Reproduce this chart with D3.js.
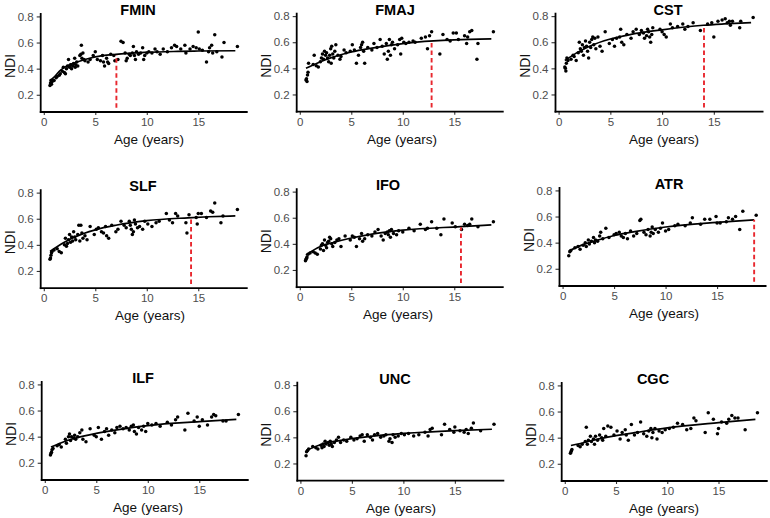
<!DOCTYPE html>
<html>
<head>
<meta charset="utf-8">
<script src="https://cdn.jsdelivr.net/npm/d3@7"></script>
<style>
  body { margin: 0; background: #fff; }
  svg { display: block; }
  text { font-family: "Liberation Sans", Arial, Helvetica, sans-serif; }
</style>
</head>
<body>
<svg id="chart" width="770" height="518"></svg>
<script>
// ---------------- DATA ----------------
const tracts = ["FMIN", "FMAJ", "CST", "SLF", "IFO", "ATR", "ILF", "UNC", "CGC"];
const xTicks = [0, 5, 10, 15];
const yTicks = [0.2, 0.4, 0.6, 0.8];
const xLabel = "Age (years)";
const yLabel = "NDI";

// scatter points [age, NDI]
const fminPoints = [[0.6,0.27],[0.65,0.29],[0.7,0.31],[0.75,0.28],[0.8,0.30],[0.9,0.31],[1.0,0.31],[1.2,0.33],[1.3,0.34],[1.5,0.35],[1.6,0.36],[1.8,0.38],[1.9,0.41],[2.0,0.37],[2.1,0.36],[2.2,0.40],[2.3,0.42],[2.4,0.47],[2.5,0.41],[2.6,0.43],[2.7,0.40],[2.8,0.42],[2.9,0.44],[3.0,0.48],[3.05,0.41],[3.1,0.43],[3.2,0.45],[3.3,0.42],[3.5,0.50],[3.6,0.51],[3.65,0.58],[3.7,0.48],[3.8,0.52],[3.9,0.47],[4.0,0.46],[4.3,0.45],[4.5,0.47],[4.8,0.50],[5.0,0.53],[5.2,0.47],[5.5,0.46],[5.7,0.50],[5.8,0.45],[5.9,0.42],[6.1,0.48],[6.2,0.45],[6.3,0.44],[6.5,0.51],[6.8,0.50],[6.9,0.46],[7.2,0.47],[7.5,0.61],[7.7,0.60],[7.9,0.52],[8.0,0.46],[8.1,0.48],[8.3,0.51],[8.4,0.50],[8.6,0.52],[8.7,0.57],[8.8,0.50],[8.9,0.47],[9.0,0.53],[9.2,0.51],[9.4,0.52],[9.6,0.56],[9.7,0.47],[9.8,0.50],[10.0,0.52],[10.2,0.53],[10.5,0.52],[10.8,0.55],[11.0,0.53],[11.3,0.51],[11.6,0.55],[12.0,0.53],[12.4,0.56],[12.7,0.58],[12.9,0.57],[13.3,0.55],[13.7,0.58],[13.8,0.52],[14.2,0.55],[14.5,0.57],[14.8,0.56],[15.0,0.68],[15.1,0.55],[15.4,0.54],[15.8,0.45],[16.0,0.53],[16.1,0.56],[16.3,0.58],[16.4,0.52],[16.6,0.66],[16.8,0.53],[17.3,0.49],[17.5,0.60],[18.8,0.57]];
const fmajPoints = [[0.6,0.31],[0.65,0.32],[0.7,0.30],[0.75,0.35],[0.8,0.37],[0.85,0.44],[1.3,0.43],[1.4,0.50],[1.6,0.42],[1.8,0.41],[2.0,0.45],[2.1,0.48],[2.2,0.51],[2.3,0.47],[2.4,0.53],[2.5,0.50],[2.6,0.52],[2.7,0.48],[2.8,0.45],[2.9,0.50],[3.0,0.55],[3.05,0.44],[3.1,0.57],[3.2,0.51],[3.3,0.48],[3.4,0.53],[3.5,0.58],[3.7,0.50],[3.9,0.47],[4.0,0.49],[4.3,0.54],[4.5,0.52],[4.9,0.53],[5.1,0.58],[5.3,0.54],[5.5,0.44],[5.7,0.50],[5.9,0.56],[6.0,0.58],[6.1,0.60],[6.2,0.53],[6.3,0.44],[6.6,0.56],[7.0,0.54],[7.2,0.59],[7.5,0.56],[7.8,0.62],[8.0,0.57],[8.2,0.51],[8.4,0.59],[8.5,0.47],[8.6,0.53],[8.7,0.62],[8.8,0.50],[8.9,0.58],[9.0,0.60],[9.2,0.55],[9.5,0.58],[9.7,0.62],[9.8,0.51],[9.9,0.63],[10.1,0.60],[10.3,0.59],[10.6,0.60],[11.0,0.61],[11.2,0.60],[11.8,0.63],[12.2,0.64],[12.4,0.55],[12.6,0.65],[12.8,0.68],[13.6,0.51],[13.9,0.66],[14.3,0.62],[14.6,0.61],[14.9,0.67],[15.2,0.67],[15.4,0.62],[16.0,0.65],[16.2,0.59],[16.3,0.64],[16.5,0.68],[16.7,0.69],[17.2,0.47],[17.3,0.59],[18.8,0.68]];
const cstPoints = [[0.6,0.41],[0.65,0.40],[0.7,0.38],[0.75,0.44],[0.8,0.48],[0.9,0.46],[1.2,0.47],[1.4,0.50],[1.5,0.49],[1.7,0.46],[1.9,0.52],[2.0,0.60],[2.1,0.55],[2.2,0.53],[2.3,0.58],[2.4,0.50],[2.5,0.56],[2.6,0.61],[2.7,0.57],[2.8,0.53],[2.9,0.48],[3.0,0.60],[3.1,0.56],[3.2,0.62],[3.3,0.64],[3.4,0.58],[3.5,0.63],[3.6,0.55],[3.8,0.64],[4.0,0.57],[4.2,0.53],[4.5,0.68],[4.9,0.59],[5.2,0.62],[5.4,0.57],[5.6,0.63],[5.9,0.64],[6.0,0.70],[6.1,0.60],[6.3,0.58],[6.6,0.66],[7.0,0.63],[7.2,0.68],[7.5,0.70],[7.8,0.66],[8.0,0.69],[8.2,0.67],[8.3,0.63],[8.5,0.65],[8.6,0.70],[8.7,0.68],[8.8,0.64],[8.9,0.60],[9.0,0.66],[9.1,0.71],[9.8,0.70],[10.0,0.68],[10.2,0.66],[10.4,0.64],[10.8,0.74],[11.0,0.71],[11.5,0.72],[12.0,0.74],[12.2,0.70],[12.5,0.72],[13.0,0.75],[13.7,0.69],[14.4,0.74],[14.8,0.75],[15.0,0.64],[15.4,0.76],[15.8,0.77],[16.1,0.78],[16.3,0.75],[16.5,0.76],[16.6,0.73],[16.8,0.76],[17.5,0.71],[17.6,0.76],[18.8,0.79]];
const slfPoints = [[0.6,0.29],[0.65,0.30],[0.7,0.32],[0.75,0.34],[0.8,0.35],[1.0,0.36],[1.3,0.37],[1.5,0.35],[1.7,0.34],[2.0,0.40],[2.1,0.45],[2.2,0.39],[2.3,0.41],[2.4,0.44],[2.5,0.48],[2.6,0.42],[2.7,0.46],[2.8,0.43],[2.9,0.50],[3.0,0.46],[3.1,0.44],[3.3,0.48],[3.4,0.55],[3.5,0.43],[3.6,0.55],[3.7,0.49],[3.8,0.45],[4.0,0.47],[4.2,0.44],[4.5,0.54],[4.9,0.48],[5.1,0.52],[5.3,0.53],[5.6,0.50],[5.8,0.49],[6.0,0.54],[6.1,0.47],[6.3,0.45],[6.6,0.55],[7.0,0.50],[7.2,0.52],[7.5,0.58],[7.8,0.55],[8.0,0.53],[8.3,0.58],[8.4,0.55],[8.5,0.52],[8.6,0.48],[8.7,0.50],[8.8,0.59],[8.9,0.56],[9.1,0.53],[9.3,0.54],[9.6,0.52],[9.8,0.58],[10.1,0.56],[10.5,0.54],[10.9,0.57],[11.2,0.58],[11.9,0.64],[12.2,0.59],[12.5,0.57],[12.8,0.64],[13.0,0.62],[13.8,0.57],[13.9,0.49],[14.1,0.63],[14.8,0.61],[14.9,0.56],[15.0,0.64],[15.3,0.64],[15.8,0.61],[16.2,0.66],[16.4,0.65],[16.6,0.72],[17.2,0.57],[17.4,0.62],[18.8,0.67]];
const ifoPoints = [[0.55,0.27],[0.6,0.28],[0.65,0.29],[0.7,0.30],[0.8,0.32],[1.0,0.33],[1.3,0.34],[1.5,0.33],[1.7,0.32],[2.0,0.36],[2.1,0.39],[2.2,0.40],[2.3,0.35],[2.4,0.43],[2.5,0.39],[2.6,0.37],[2.7,0.41],[2.8,0.42],[2.9,0.45],[3.0,0.44],[3.1,0.40],[3.2,0.38],[3.4,0.41],[3.6,0.43],[3.8,0.44],[4.0,0.38],[4.4,0.46],[4.9,0.43],[5.1,0.46],[5.3,0.45],[5.5,0.38],[5.8,0.44],[6.0,0.48],[6.1,0.42],[6.3,0.44],[6.6,0.47],[7.0,0.46],[7.3,0.49],[7.6,0.51],[7.9,0.46],[8.1,0.43],[8.3,0.48],[8.5,0.49],[8.6,0.47],[8.7,0.50],[8.8,0.45],[8.9,0.51],[9.1,0.48],[9.4,0.47],[9.6,0.50],[10.0,0.49],[10.6,0.52],[11.1,0.50],[11.7,0.55],[12.2,0.51],[12.4,0.52],[12.8,0.57],[13.3,0.52],[13.7,0.47],[14.0,0.59],[14.8,0.56],[15.1,0.53],[15.7,0.51],[16.0,0.55],[16.3,0.54],[16.5,0.55],[16.7,0.59],[17.3,0.53],[18.8,0.57]];
const atrPoints = [[0.6,0.30],[0.7,0.33],[0.8,0.34],[1.2,0.36],[1.5,0.37],[1.7,0.35],[2.0,0.38],[2.2,0.40],[2.3,0.37],[2.5,0.42],[2.6,0.39],[2.8,0.41],[3.0,0.44],[3.1,0.40],[3.2,0.42],[3.4,0.41],[3.6,0.45],[3.7,0.48],[3.9,0.43],[4.2,0.51],[4.5,0.44],[5.0,0.46],[5.2,0.47],[5.5,0.48],[5.7,0.45],[5.9,0.44],[6.1,0.47],[6.3,0.43],[6.6,0.49],[6.9,0.45],[7.2,0.47],[7.5,0.57],[7.6,0.58],[7.9,0.48],[8.1,0.46],[8.3,0.50],[8.5,0.45],[8.6,0.48],[8.7,0.52],[8.8,0.47],[9.0,0.50],[9.3,0.48],[9.5,0.51],[9.7,0.55],[10.0,0.49],[10.3,0.50],[10.9,0.53],[11.2,0.54],[11.9,0.53],[12.4,0.55],[12.6,0.59],[13.4,0.54],[13.8,0.58],[14.3,0.58],[14.9,0.60],[15.0,0.55],[15.3,0.55],[15.9,0.56],[16.1,0.59],[16.5,0.58],[16.8,0.60],[17.2,0.50],[17.5,0.64],[18.8,0.61]];
const ilfPoints = [[0.55,0.26],[0.6,0.27],[0.65,0.28],[0.7,0.30],[0.8,0.31],[1.2,0.33],[1.4,0.34],[1.6,0.32],[2.0,0.38],[2.1,0.35],[2.3,0.40],[2.4,0.42],[2.5,0.37],[2.6,0.40],[2.8,0.39],[2.9,0.41],[3.0,0.38],[3.2,0.40],[3.4,0.43],[3.6,0.45],[3.7,0.38],[4.0,0.36],[4.4,0.46],[4.8,0.41],[5.0,0.40],[5.2,0.47],[5.5,0.38],[5.8,0.44],[6.0,0.46],[6.2,0.41],[6.5,0.45],[6.8,0.43],[7.0,0.47],[7.3,0.48],[7.6,0.46],[7.9,0.47],[8.2,0.45],[8.4,0.48],[8.6,0.49],[8.7,0.44],[8.9,0.42],[9.1,0.47],[9.4,0.45],[9.6,0.48],[9.8,0.44],[10.0,0.50],[10.4,0.49],[10.8,0.50],[11.2,0.48],[11.9,0.51],[12.3,0.49],[12.7,0.53],[12.9,0.55],[13.6,0.45],[13.9,0.58],[14.5,0.52],[14.8,0.55],[15.0,0.48],[15.3,0.53],[15.8,0.49],[16.2,0.55],[16.4,0.57],[16.6,0.56],[17.3,0.52],[17.6,0.52],[18.8,0.57]];
const uncPoints = [[0.55,0.26],[0.6,0.29],[0.7,0.30],[0.8,0.31],[1.2,0.33],[1.5,0.32],[1.7,0.31],[2.0,0.34],[2.1,0.32],[2.2,0.35],[2.3,0.33],[2.4,0.37],[2.5,0.35],[2.7,0.36],[2.8,0.34],[2.9,0.37],[3.0,0.35],[3.1,0.33],[3.3,0.36],[3.5,0.38],[3.7,0.40],[3.9,0.36],[4.2,0.38],[4.5,0.37],[4.9,0.40],[5.2,0.38],[5.5,0.39],[5.8,0.41],[6.0,0.42],[6.2,0.37],[6.5,0.42],[6.8,0.40],[7.0,0.38],[7.2,0.42],[7.5,0.43],[7.8,0.40],[8.1,0.41],[8.3,0.42],[8.6,0.37],[8.7,0.39],[8.9,0.36],[9.0,0.42],[9.2,0.40],[9.5,0.41],[9.8,0.43],[10.1,0.42],[10.5,0.43],[11.0,0.41],[11.5,0.42],[12.1,0.44],[12.4,0.41],[12.6,0.46],[12.8,0.47],[13.7,0.42],[14.0,0.50],[14.5,0.46],[14.9,0.44],[15.0,0.48],[15.5,0.45],[15.9,0.44],[16.1,0.46],[16.3,0.43],[16.6,0.47],[16.8,0.51],[17.5,0.45],[18.8,0.50]];
const cgcPoints = [[0.55,0.28],[0.6,0.29],[0.65,0.30],[0.7,0.31],[1.3,0.34],[1.5,0.33],[1.7,0.35],[2.0,0.37],[2.1,0.48],[2.2,0.35],[2.3,0.38],[2.5,0.41],[2.6,0.37],[2.8,0.39],[2.9,0.35],[3.0,0.41],[3.2,0.38],[3.4,0.42],[3.6,0.40],[3.7,0.38],[3.8,0.47],[4.0,0.41],[4.2,0.49],[4.5,0.48],[4.8,0.42],[5.1,0.45],[5.4,0.39],[5.6,0.44],[5.9,0.46],[6.0,0.42],[6.2,0.38],[6.5,0.50],[6.8,0.42],[7.1,0.44],[7.4,0.52],[7.7,0.43],[8.0,0.41],[8.2,0.45],[8.4,0.47],[8.5,0.40],[8.6,0.44],[8.8,0.47],[9.0,0.39],[9.2,0.45],[9.5,0.44],[9.8,0.46],[10.2,0.47],[10.6,0.48],[11.0,0.51],[11.5,0.50],[11.9,0.46],[12.3,0.47],[12.6,0.55],[12.8,0.53],[13.7,0.44],[14.0,0.59],[14.5,0.54],[14.9,0.43],[15.0,0.47],[15.3,0.52],[15.8,0.51],[16.0,0.54],[16.3,0.57],[16.6,0.55],[16.9,0.55],[17.6,0.46],[18.8,0.59]];

// fitted curve values read at sample ages [age, NDI]
const fminCurve = [[0.6,0.31],[1,0.335],[1.5,0.38],[2,0.41],[2.5,0.43],[3,0.445],[4,0.47],[5,0.49],[7,0.51],[10,0.525],[13,0.532],[15,0.535],[18.6,0.537]];
const fmajCurve = [[0.6,0.40],[2,0.45],[3,0.48],[5,0.525],[7,0.555],[10,0.59],[13,0.61],[15,0.618],[18.6,0.625]];
const cstCurve = [[0.6,0.46],[2,0.53],[3,0.57],[5,0.625],[7,0.66],[10,0.695],[14,0.73],[16,0.74],[18.6,0.75]];
const slfCurve = [[0.6,0.35],[2,0.42],[3,0.46],[5,0.515],[7,0.55],[10,0.585],[14,0.607],[16,0.615],[18.6,0.622]];
const ifoCurve = [[0.6,0.315],[2,0.38],[3,0.405],[5,0.445],[7,0.475],[10,0.505],[15.6,0.532],[18.6,0.545]];
const atrCurve = [[0.6,0.335],[2,0.385],[3,0.41],[5,0.455],[7,0.485],[10,0.52],[15,0.555],[18.6,0.575]];
const ilfCurve = [[0.6,0.32],[2,0.365],[3,0.39],[5,0.425],[7,0.452],[10,0.485],[15,0.515],[18.6,0.532]];
const uncCurve = [[0.6,0.30],[2,0.345],[3,0.365],[5,0.39],[7,0.41],[10,0.43],[15,0.452],[18.6,0.462]];
const cgcCurve = [[0.6,0.34],[2,0.365],[3,0.385],[5,0.415],[7,0.44],[10,0.475],[15,0.515],[18.6,0.54]];

// maturation age (red dashed line): [age, NDI at top] or null
const fminDash = [7.05, 0.505];
const fmajDash = [12.8, 0.608];
const cstDash = [14.05, 0.728];
const slfDash = [14.3, 0.603];
const ifoDash = [15.65, 0.527];
const atrDash = [18.6, 0.575];
const ilfDash = null;
const uncDash = null;
const cgcDash = null;

const pointsList = [fminPoints, fmajPoints, cstPoints, slfPoints, ifoPoints, atrPoints, ilfPoints, uncPoints, cgcPoints];
const curveList = [fminCurve, fmajCurve, cstCurve, slfCurve, ifoCurve, atrCurve, ilfCurve, uncCurve, cgcCurve];
const dashList = [fminDash, fmajDash, cstDash, slfDash, ifoDash, atrDash, ilfDash, uncDash, cgcDash];

// ---------------- LAYOUT ----------------
const layout = [
  {l: 40.7, b: 112.0, w: 207, tx: 138, ax: 149},
  {l: 296.7, b: 111.7, w: 207, tx: 395, ax: 402},
  {l: 555.5, b: 111.7, w: 208, tx: 668, ax: 664},
  {l: 40.7, b: 288.2, w: 207, tx: 143, ax: 150},
  {l: 296.7, b: 287.2, w: 207, tx: 388, ax: 398},
  {l: 559.5, b: 286.0, w: 207, tx: 669, ax: 664},
  {l: 41.7, b: 480.0, w: 207, tx: 143, ax: 148},
  {l: 297.3, b: 480.7, w: 207, tx: 395, ax: 401},
  {l: 561.7, b: 481.0, w: 206, tx: 653, ax: 664}
];

const svg = d3.select("#chart");
const tickColor = "#4d4d4d";

tracts.forEach((name, i) => {
  const L = layout[i];
  const x = d3.scaleLinear().domain([-0.3, 19.8]).range([L.l, L.l + L.w]);
  const y = d3.scaleLinear().domain([0.068, 0.83]).range([L.b, L.b - 99.5]);
  const g = svg.append("g");

  // points
  g.append("g").selectAll("circle").data(pointsList[i]).join("circle")
    .attr("cx", d => x(d[0])).attr("cy", d => y(d[1]))
    .attr("r", 1.75).attr("fill", "#000");

  // fitted curve
  const line = d3.line().x(d => x(d[0])).y(d => y(d[1])).curve(d3.curveMonotoneX);
  g.append("path").datum(curveList[i]).attr("d", line)
    .attr("fill", "none").attr("stroke", "#000").attr("stroke-width", 1.7);

  // red dashed maturation line
  const dsh = dashList[i];
  if (dsh) {
    g.append("line")
      .attr("x1", x(dsh[0])).attr("x2", x(dsh[0]))
      .attr("y1", y(0.1)).attr("y2", y(dsh[1]))
      .attr("stroke", "#e8272e").attr("stroke-width", 1.9)
      .attr("stroke-dasharray", "4.5,3");
  }

  // axes
  const xAxis = d3.axisBottom(x).tickValues(xTicks).tickSize(3).tickPadding(3).tickFormat(d3.format("d"));
  const yAxis = d3.axisLeft(y).tickValues(yTicks).tickSize(4).tickPadding(3).tickFormat(d3.format(".1f"));
  const gx = g.append("g").attr("transform", `translate(0,${L.b})`).call(xAxis);
  const gy = g.append("g").attr("transform", `translate(${L.l},0)`).call(yAxis);
  [gx, gy].forEach(ax => {
    ax.select(".domain").remove();
    ax.selectAll(".tick line").attr("stroke", "#333").attr("stroke-width", 1.1);
    ax.selectAll(".tick text").attr("fill", tickColor).style("font-size", "11.5px")
      .style("font-family", "'Liberation Sans', Arial, sans-serif");
  });
  // axis lines
  g.append("line").attr("x1", L.l).attr("x2", L.l).attr("y1", L.b + 0.9).attr("y2", y(0.826))
    .attr("stroke", "#000").attr("stroke-width", 1.8);
  g.append("line").attr("x1", L.l - 0.9).attr("x2", L.l + L.w).attr("y1", L.b).attr("y2", L.b)
    .attr("stroke", "#000").attr("stroke-width", 1.8);

  // title
  g.append("text").attr("x", L.tx).attr("y", L.b - 97)
    .attr("text-anchor", "middle").style("font-size", "14.5px").style("font-weight", "bold")
    .attr("fill", "#000").text(name);
  // x label
  g.append("text").attr("x", L.ax).attr("y", L.b + 32)
    .attr("text-anchor", "middle").style("font-size", "13.5px").attr("fill", "#111").text(xLabel);
  // y label
  g.append("text").attr("transform", `translate(${L.l - 26},${L.b - 46}) rotate(-90)`)
    .attr("text-anchor", "middle").style("font-size", "14px").attr("fill", "#111").text(yLabel);
});
</script>
</body>
</html>
